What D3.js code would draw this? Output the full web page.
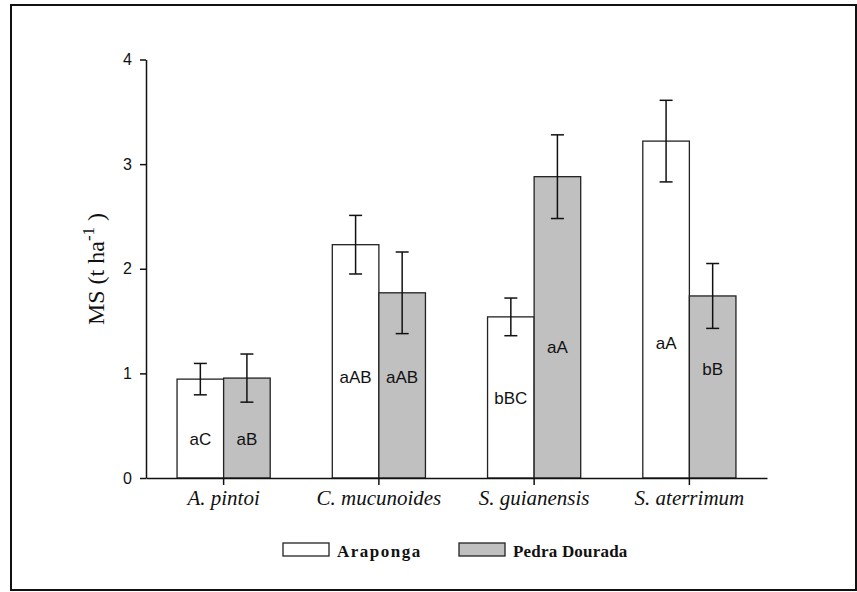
<!DOCTYPE html>
<html>
<head>
<meta charset="utf-8">
<script src="https://cdn.jsdelivr.net/npm/d3@7"></script>
<style>
  body { margin: 0; background: #fff; }
  svg { display: block; }
</style>
</head>
<body>
<svg width="857" height="592"></svg>
<script>
// data
let species = ["A. pintoi", "C. mucunoides", "S. guianensis", "S. aterrimum"];
let araponga = [0.945, 2.23, 1.54, 3.22];
let arapongaErr = [0.15, 0.28, 0.18, 0.39];
let pedra = [0.955, 1.77, 2.88, 1.74];
let pedraErr = [0.23, 0.39, 0.40, 0.31];
let arapongaLetters = ["aC", "aAB", "bBC", "aA"];
let pedraLetters = ["aB", "aAB", "aA", "bB"];
let arapongaLetterAt = [0.37, 0.97, 0.77, 1.29];
let pedraLetterAt = [0.37, 0.97, 1.25, 1.04];
let yTicks = [0, 1, 2, 3, 4];
let seriesNames = ["Araponga", "Pedra Dourada"];
let seriesFill = ["#ffffff", "#c0c0c0"];

var svg = d3.select("svg"),
    width = +svg.attr("width"),
    height = +svg.attr("height");

// outer frame
svg.append("rect")
    .attr("x", 11).attr("y", 5)
    .attr("width", 845).attr("height", 585)
    .attr("fill", "none")
    .attr("stroke", "#111")
    .attr("stroke-width", 2);

let x = d3.scaleBand()
    .domain(species)
    .range([146, 767])
    .paddingInner(0.4)
    .paddingOuter(0.2);

let xSeries = d3.scaleBand()
    .domain(seriesNames)
    .range([0, x.bandwidth()]);

let y = d3.scaleLinear()
    .domain([0, 4])
    .range([478, 59.5]);

// build rows per bar
let rows = [];
species.forEach(function(s, i){
    rows.push({sp: s, series: seriesNames[0], v: araponga[i], e: arapongaErr[i], lab: arapongaLetters[i], labY: arapongaLetterAt[i], fill: seriesFill[0]});
    rows.push({sp: s, series: seriesNames[1], v: pedra[i], e: pedraErr[i], lab: pedraLetters[i], labY: pedraLetterAt[i], fill: seriesFill[1]});
});

// bars
svg.append("g")
    .selectAll("rect")
    .data(rows)
    .enter().append("rect")
    .attr("x", d => x(d.sp) + xSeries(d.series))
    .attr("y", d => y(d.v))
    .attr("width", xSeries.bandwidth())
    .attr("height", d => y(0) - y(d.v))
    .attr("fill", d => d.fill)
    .attr("stroke", "#222")
    .attr("stroke-width", 1.3);

// error bars
let err = svg.append("g")
    .attr("stroke", "#111")
    .attr("stroke-width", 1.5)
    .selectAll("g")
    .data(rows)
    .enter().append("g")
    .attr("transform", d => "translate(" + (x(d.sp) + xSeries(d.series) + xSeries.bandwidth() / 2) + ",0)");
err.append("line")
    .attr("y1", d => y(d.v + d.e))
    .attr("y2", d => y(d.v - d.e));
err.append("line")
    .attr("x1", -6.5).attr("x2", 6.5)
    .attr("y1", d => y(d.v + d.e))
    .attr("y2", d => y(d.v + d.e));
err.append("line")
    .attr("x1", -6.5).attr("x2", 6.5)
    .attr("y1", d => y(d.v - d.e))
    .attr("y2", d => y(d.v - d.e));

// letters inside bars
svg.append("g")
    .selectAll("text")
    .data(rows)
    .enter().append("text")
    .attr("x", d => x(d.sp) + xSeries(d.series) + xSeries.bandwidth() / 2)
    .attr("y", d => y(d.labY))
    .attr("dy", "0.36em")
    .attr("text-anchor", "middle")
    .style("font-family", "'Liberation Sans', Arial, sans-serif")
    .style("font-size", "17px")
    .attr("fill", "#111")
    .text(d => d.lab);

// y axis
let yAxis = svg.append("g")
    .attr("transform", "translate(146,0)")
    .call(d3.axisLeft(y).tickValues(yTicks).tickFormat(d3.format("d")).tickSize(6).tickSizeOuter(0).tickPadding(8));
yAxis.selectAll("text")
    .style("font-family", "'Liberation Sans', Arial, sans-serif")
    .style("font-size", "16px")
    .attr("fill", "#111");
yAxis.selectAll("path, line").attr("stroke", "#111").attr("stroke-width", 1.5);

// x axis
let xAxis = svg.append("g")
    .attr("transform", "translate(0,478)")
    .call(d3.axisBottom(x).tickSize(7).tickSizeOuter(0).tickPadding(5));
xAxis.selectAll("text")
    .style("font-family", "'Liberation Serif', 'Times New Roman', serif")
    .style("font-style", "italic")
    .style("font-size", "21px")
    .attr("fill", "#111");
xAxis.selectAll("path, line").attr("stroke", "#111").attr("stroke-width", 1.5);

// y title
let yTitle = svg.append("text")
    .attr("transform", "translate(104,269) rotate(-90)")
    .attr("text-anchor", "middle")
    .style("font-family", "'Liberation Serif', 'Times New Roman', serif")
    .style("font-size", "24px")
    .attr("fill", "#111");
yTitle.append("tspan").text("MS (t ha");
yTitle.append("tspan").attr("dy", "-10").style("font-size", "17px").text("-1");
yTitle.append("tspan").attr("dy", "10").text(" )");

// legend
let legend = svg.append("g")
    .selectAll("g")
    .data(seriesNames)
    .enter().append("g")
    .attr("transform", (d, i) => "translate(" + [283, 459][i] + ",543)");
legend.append("rect")
    .attr("width", 46).attr("height", 13)
    .attr("fill", (d, i) => seriesFill[i])
    .attr("stroke", "#222")
    .attr("stroke-width", 1.3);
legend.append("text")
    .attr("x", 54).attr("y", 14)
    .style("font-family", "'Liberation Serif', 'Times New Roman', serif")
    .style("font-weight", "bold")
    .style("font-size", "17px")
    .style("letter-spacing", (d, i) => i === 0 ? "1.5px" : "0.2px")
    .attr("fill", "#111")
    .text(d => d);
</script>
</body>
</html>
